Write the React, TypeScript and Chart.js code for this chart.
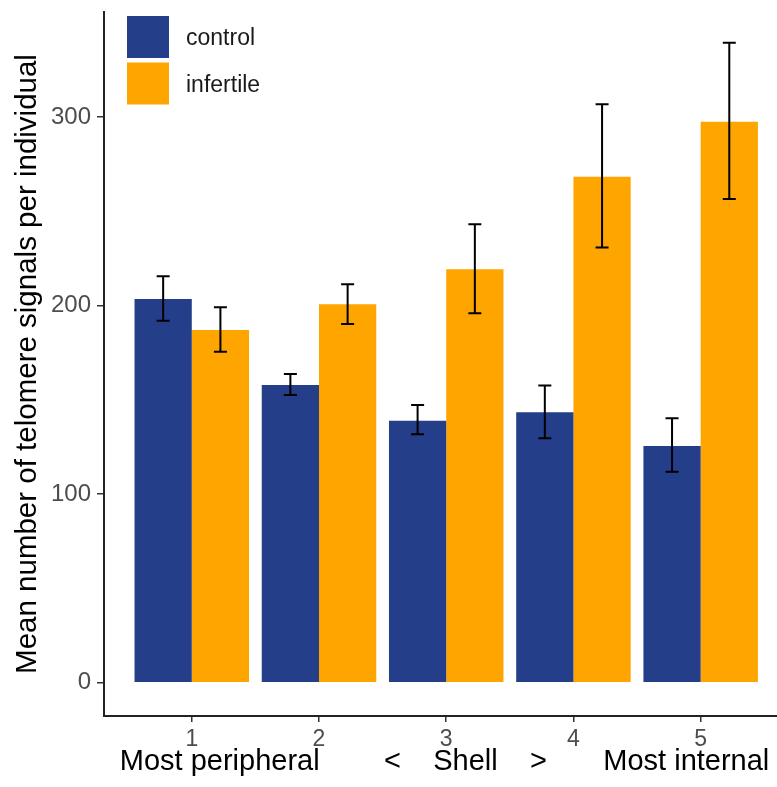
import React, { useEffect, useRef } from "react";
import { Chart, registerables } from "chart.js";

Chart.register(...registerables);

const categories = [1, 2, 3, 4, 5];
const xTickLabels = ["1", "2", "3", "4", "5"];
const yTicks = [0, 100, 200, 300];
const seriesNames = ["control", "infertile"];
const control = [203.6, 157.9, 139.0, 143.4, 125.6];
const controlLow = [192.0, 152.6, 131.8, 129.7, 111.9];
const controlHigh = [215.6, 163.8, 147.3, 157.6, 140.3];
const infertile = [187.1, 200.7, 219.3, 268.4, 297.6];
const infertileLow = [175.6, 190.3, 196.0, 230.8, 256.6];
const infertileHigh = [199.1, 211.4, 243.2, 306.8, 339.5];
const xTitle = " Most peripheral        <    Shell    >       Most internal";
const yTitle = "Mean number of telomere signals per individual";

const FONT = "'Liberation Sans', Arial, Helvetica, sans-serif";
const BLUE = "#253E8A";
const ORANGE = "#FFA500";

const lows = [controlLow, infertileLow];
const highs = [controlHigh, infertileHigh];

const errorBars = {
  id: "errorBars",
  afterDatasetsDraw(chart: any) {
    const { ctx } = chart;
    const y = chart.scales.y;
    ctx.save();
    ctx.strokeStyle = "#000";
    ctx.lineWidth = 2;
    chart.data.datasets.forEach((_: any, di: number) => {
      const meta = chart.getDatasetMeta(di);
      meta.data.forEach((el: any, i: number) => {
        const x = el.x;
        const yl = y.getPixelForValue(lows[di][i]);
        const yh = y.getPixelForValue(highs[di][i]);
        const cap = 6.5;
        ctx.beginPath();
        ctx.moveTo(x, yl);
        ctx.lineTo(x, yh);
        ctx.moveTo(x - cap, yl);
        ctx.lineTo(x + cap, yl);
        ctx.moveTo(x - cap, yh);
        ctx.lineTo(x + cap, yh);
        ctx.stroke();
      });
    });
    ctx.restore();
  },
};

const legendBox = {
  id: "legendBox",
  afterDraw(chart: any) {
    const { ctx, chartArea } = chart;
    const x0 = chartArea.left + 23;
    const y0 = chartArea.top + 4;
    const size = 42;
    const gap = 4.5;
    ctx.save();
    ctx.font = `23px ${FONT}`;
    ctx.textBaseline = "middle";
    ctx.textAlign = "left";
    chart.data.datasets.forEach((ds: any, i: number) => {
      const yy = y0 + i * (size + gap);
      ctx.fillStyle = ds.backgroundColor;
      ctx.fillRect(x0, yy, size, size);
      ctx.fillStyle = "#1a1a1a";
      ctx.fillText(ds.label, x0 + size + 17, yy + size / 2 + 2);
    });
    ctx.restore();
  },
};

export default function App() {
  const ref = useRef<HTMLCanvasElement>(null);
  useEffect(() => {
    if (!ref.current) return;
    const chart = new Chart(ref.current, {
      type: "bar",
      data: {
        datasets: [
          {
            label: seriesNames[0],
            data: categories.map((c, i) => ({ x: c, y: control[i] })),
            backgroundColor: BLUE,
          },
          {
            label: seriesNames[1],
            data: categories.map((c, i) => ({ x: c, y: infertile[i] })),
            backgroundColor: ORANGE,
          },
        ],
      },
      options: {
        animation: false,
        responsive: false,
        devicePixelRatio: 1,
        layout: { padding: { top: 12, right: 0, bottom: 0, left: 0 } },
        datasets: { bar: { categoryPercentage: 0.9, barPercentage: 1.0 } },
        plugins: { legend: { display: false }, tooltip: { enabled: false } },
        scales: {
          x: {
            type: "linear",
            min: 0.31,
            max: 5.6,
            offset: false,
            afterBuildTicks: (axis: any) => {
              axis.ticks = categories.map((v) => ({ value: v }));
            },
            afterFit: (axis: any) => {
              axis.height = 71;
              axis.paddingLeft = 0;
              axis.paddingRight = 0;
            },
            ticks: {
              callback: (v: any) => xTickLabels[categories.indexOf(Number(v))] ?? "",
              color: "#4D4D4D",
              font: { family: FONT, size: 23 },
              padding: 4,
              maxRotation: 0,
              autoSkip: false,
            },
            grid: {
              offset: false,
              drawOnChartArea: false,
              drawTicks: true,
              tickLength: 6,
              color: "#333",
              lineWidth: 1.5,
            },
            border: { display: true, color: "#222", width: 2 },
            title: {
              display: true,
              text: xTitle,
              color: "#000",
              font: { family: FONT, size: 29 },
              padding: { top: 0, bottom: 8 },
            },
          },
          y: {
            type: "linear",
            min: -17.7,
            max: 355.8,
            afterBuildTicks: (axis: any) => {
              axis.ticks = yTicks.map((v) => ({ value: v }));
            },
            afterFit: (axis: any) => {
              axis.width = 104;
              axis.paddingTop = 0;
              axis.paddingBottom = 0;
            },
            ticks: {
              color: "#4D4D4D",
              font: { family: FONT, size: 24 },
              padding: 6,
            },
            grid: {
              drawOnChartArea: false,
              drawTicks: true,
              tickLength: 7,
              color: "#333",
              lineWidth: 1.5,
            },
            border: { display: true, color: "#222", width: 2 },
            title: {
              display: true,
              text: yTitle,
              color: "#000",
              font: { family: FONT, size: 29.5 },
              padding: { top: 10, bottom: 0 },
            },
          },
        },
      },
      plugins: [errorBars, legendBox],
    } as any);
    return () => chart.destroy();
  }, []);
  return (
    <div style={{ position: "absolute", left: 0, top: 0, width: 777, height: 787, background: "#fff" }}>
      <canvas ref={ref} width={777} height={787} style={{ display: "block" }} />
    </div>
  );
}
